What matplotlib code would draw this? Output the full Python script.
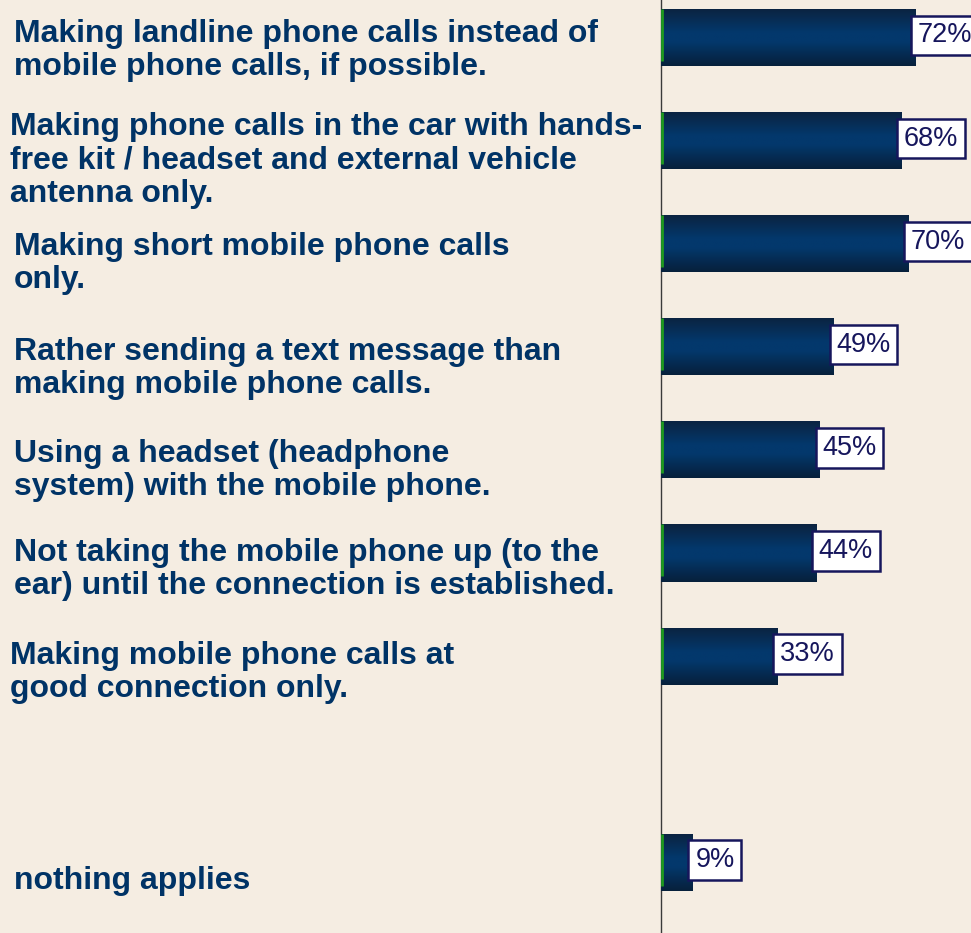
import matplotlib
matplotlib.use("Agg")
import matplotlib.pyplot as plt
import numpy as np
from matplotlib.colors import LinearSegmentedColormap
from matplotlib.transforms import blended_transform_factory, ScaledTranslation

# Survey answers (top to bottom); slot 7 is an empty spacer row
categories = [
    "Making landline phone calls instead of\nmobile phone calls, if possible.",
    "Making phone calls in the car with hands-\nfree kit / headset and external vehicle\nantenna only.",
    "Making short mobile phone calls\nonly.",
    "Rather sending a text message than\nmaking mobile phone calls.",
    "Using a headset (headphone\nsystem) with the mobile phone.",
    "Not taking the mobile phone up (to the\near) until the connection is established.",
    "Making mobile phone calls at\ngood connection only.",
    "nothing applies",
]
slots = [0, 1, 2, 3, 4, 5, 6, 8]
values = [72, 68, 70, 49, 45, 44, 33, 9]
value_labels = ["72%", "68%", "70%", "49%", "45%", "44%", "33%", "9%"]

# label placement: left edge (px) and last-line baseline shift below bar centre (px)
label_x_px = [13.5, 9.5, 13.5, 13.5, 13.5, 13.5, 9.5, 13.5]
label_dy_px = [37.5, 61.4, 44.3, 46.2, 45.1, 41.0, 40.9, 26.7]

BG = "#f5ede2"
NAVY_TEXT = "#003366"
BOX_TEXT = "#16165c"

W, H, DPI = 971, 933, 100
fig = plt.figure(figsize=(W / DPI, H / DPI), dpi=DPI, facecolor=BG)
ax = fig.add_axes([661 / W, 0, 1 - 661 / W, 1])
ax.set_facecolor(BG)

bar_h = 0.553
bars = ax.barh(slots, values, height=bar_h, color="#03386c", zorder=2)

cmap = LinearSegmentedColormap.from_list(
    "barshade",
    [(0.0, "#0b2340"), (0.42, "#03386c"), (0.58, "#03386c"), (1.0, "#07203b")],
)
grad = np.linspace(0, 1, 64).reshape(-1, 1)
for b in bars:
    x0, y0 = b.get_x(), b.get_y()
    im = ax.imshow(grad, cmap=cmap, aspect="auto", interpolation="bilinear",
                   extent=[x0, x0 + b.get_width(), y0 + b.get_height(), y0],
                   zorder=3)
    im.set_clip_path(b)

# thin green edge at the base of each bar
for s in slots:
    ax.vlines(0.3, s - bar_h / 2, s + bar_h / 2 - 0.05, color="#1f9a1f",
              lw=2.0, zorder=4)

ax.set_xlim(0, 310 / 3.53)
ax.set_ylim(933 / 103.1 - 37.5 / 103.1, -37.5 / 103.1)
ax.set_xticks([])
ax.set_yticks([])
for sp in ("top", "right", "bottom"):
    ax.spines[sp].set_visible(False)
ax.spines["left"].set_color("#3a3a3a")
ax.spines["left"].set_linewidth(1.0)

# value boxes at the bar ends
for s, v, lab in zip(slots, values, value_labels):
    ax.annotate(lab, xy=(v, s), xytext=(1.8, 1.5), textcoords="offset points",
                ha="left", va="center", fontsize=19.5, color=BOX_TEXT,
                family="Liberation Sans", zorder=6, annotation_clip=False,
                bbox=dict(boxstyle="square,pad=0.25", fc="white",
                          ec="#16165c", lw=1.8))

# category labels on the left
tr_base = blended_transform_factory(fig.transFigure, ax.transData)
for s, text, xpx, dy in zip(slots, categories, label_x_px, label_dy_px):
    tr = tr_base + ScaledTranslation(0, -dy / DPI, fig.dpi_scale_trans)
    fig.text(xpx / W, s, text, transform=tr, ha="left", va="baseline",
             fontsize=23, fontweight="bold", color=NAVY_TEXT,
             family="Liberation Sans", linespacing=1.15)

fig.savefig("out.png", dpi=DPI, facecolor=BG)
